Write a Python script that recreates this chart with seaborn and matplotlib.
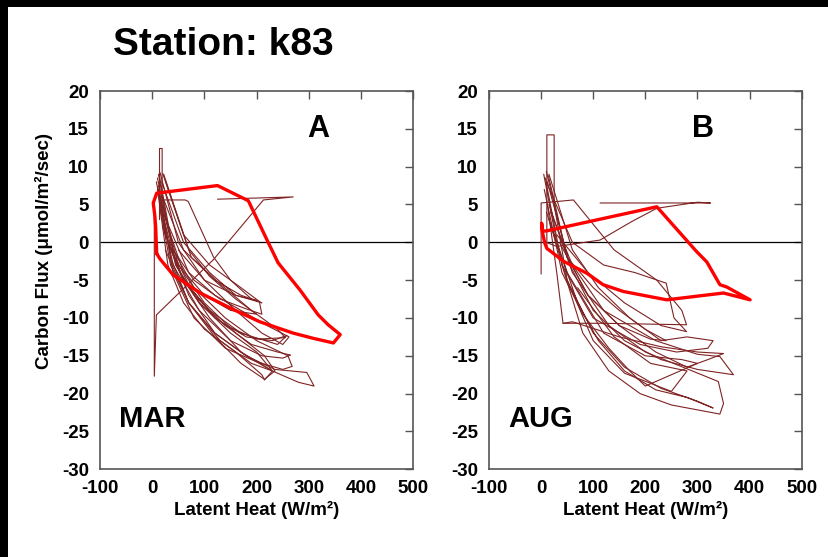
import matplotlib
matplotlib.use("Agg")
import matplotlib.pyplot as plt
from matplotlib.patches import Rectangle
import seaborn as sns
import pandas as pd

# ---------------- data ----------------
STATION = "Station: k83"
PANEL_LETTERS = ["A", "B"]
MONTHS = ["MAR", "AUG"]
X_TICKS = [-100, 0, 100, 200, 300, 400, 500]
Y_TICKS = [-30, -25, -20, -15, -10, -5, 0, 5, 10, 15, 20]

# March: individual daily loops (latent heat W/m2, carbon flux umol/m2/s)
mar_days_le = [
    [12, 30, 60, 100, 160, 215, 235, 215, 170, 120, 70, 35, 14],
    [10, 40, 80, 140, 200, 260, 268, 250, 200, 140, 80, 40, 15],
    [15, 50, 100, 160, 210, 250, 262, 220, 170, 120, 70, 20],
    [18, 60, 110, 160, 210, 200, 170, 120, 60, 20],
    [12, 35, 70, 120, 180, 235, 296, 310, 280, 230, 170, 110, 60, 25, 12],
    [20, 60, 110, 170, 205, 210, 180, 130, 80, 40, 15],
    [8, 30, 60, 110, 170, 240, 258, 230, 180, 120, 60, 20],
    [14, 45, 90, 140, 190, 240, 265, 250, 210, 150, 90, 40, 16],
    [10, 30, 60, 100, 160, 210, 215, 230, 180, 120, 70, 30],
    [22, 70, 110, 160, 200, 150, 100, 50, 20],
    [4, 4, 8, 117, 213, 270, 125],
    [14, 14, 19, 19, 45, 90, 150, 200, 230, 190, 130, 70, 25],
    [15, 63, 69, 117, 150, 190, 200, 160, 100, 50],
    [25, 75, 130, 190, 240, 255, 200, 140, 80, 30],
]
mar_days_cf = [
    [9.0, 2, -4, -8, -12, -15, -17, -18.1, -16, -12.5, -8, -3, 5],
    [8.5, -1, -6, -10, -13, -15, -16.4, -16.8, -15.8, -14, -10, -4, 6],
    [9.2, 0, -5, -9, -12, -13.5, -12.5, -11, -9, -7, -4, 4],
    [8.0, 0, -4, -7, -8, -7.7, -7, -5, -1, 6],
    [7.5, -2, -8, -12, -15, -16.8, -17.2, -19, -18.5, -17, -14.5, -10, -5, 1, 7],
    [9.1, 1, -3, -6, -7.8, -9.5, -8.8, -7.5, -5, -1, 6],
    [8, 0, -5, -9, -12, -13.5, -12.3, -13, -12.5, -10, -5, 2],
    [8.7, -3, -8, -11, -13.5, -14.5, -14.9, -15.3, -15, -13, -9, -3, 5],
    [7, -3, -8, -11.5, -14.5, -17.5, -18.2, -17, -15, -12, -7, 0],
    [9, -1, -4.5, -7.5, -9.5, -9, -7, -3, 5],
    [5, -17.7, -9.6, -2.3, 5.6, 6.0, 5.7],
    [3, 12.4, 12.4, 4, -3, -8, -12, -14.5, -17, -16, -13, -8, -1],
    [5.6, 5.6, 5.4, -1.9, -5, -7.5, -7.7, -7, -5, -1],
    [8.2, -2, -5.5, -9, -11.5, -12.6, -12.8, -11, -7, 0],
]
# March: mean diurnal loop
mar_mean_le = [8.6, 15, 40, 92, 156, 206, 270, 309, 347, 360, 337, 318, 283, 241, 222, 184, 125, 8.6, 2, 5, 6.6, 8.6]
mar_mean_cf = [-1.5, -2.2, -4.3, -6.7, -8.9, -10.5, -12.0, -12.7, -13.3, -12.2, -10.9, -9.6, -6.3, -2.7, 0, 5.5, 7.5, 6.5, 5.2, 3.5, 2.0, -1.5]

# August: individual daily loops
aug_days_le = [
    [5, 30, 70, 110, 160, 220, 280, 330, 300, 230, 160, 100, 50, 15],
    [8, 40, 80, 130, 190, 250, 343, 350, 340, 290, 200, 130, 60, 15],
    [10, 50, 90, 150, 220, 280, 320, 350, 300, 230, 150, 60, 42, 30, 12],
    [12, 55, 100, 160, 230, 300, 369, 343, 300, 220, 120, 60, 18],
    [15, 60, 110, 170, 230, 280, 330, 320, 260, 190, 100, 40],
    [6, 40, 80, 130, 170, 200, 250, 300, 270, 200, 120, 50, 10],
    [10, 60, 120, 180, 240, 255, 279, 230, 160, 90, 30],
    [11, 11, 25, 25, 50, 100, 160, 250, 280, 210, 140, 70],
    [0, 0, 62, 140, 222, 270, 279, 200, 120, 42],
    [113, 325, 300, 222, 174, 113, 30, 10],
    [14, 50, 100, 150, 200, 240, 210, 150, 90, 35],
]
aug_days_cf = [
    [9, 0, -8, -13, -17, -19.5, -20.5, -21.9, -21, -19.3, -16.5, -12, -5, 3],
    [8.5, -3, -12, -17, -20, -21.5, -22.7, -21.3, -18.4, -17, -14.5, -11, -4, 5],
    [9.4, -2, -7, -11, -14.5, -16.5, -15.5, -14.7, -14.5, -13.8, -12.5, -10.5, -10.7, -4, 5],
    [8, -3, -9, -13, -15.5, -16.8, -17.5, -15.1, -14.8, -13, -9, -3, 4],
    [9, -1, -6, -10, -13, -12.5, -13, -14, -14.5, -13.5, -10, -3],
    [7, -4, -9.5, -14, -17, -19, -17.5, -16, -15.5, -15, -12, -4, 4],
    [8, 0, -3, -4, -5.4, -10, -11.8, -11, -8, -4, 1],
    [-1, 14.2, 14.2, 5, -5, -13, -17.3, -19.7, -17, -16, -12.5, -6],
    [-4.2, 5.2, 5.6, -1, -5, -9, -10.9, -10.8, -10.7, -10.7],
    [5.2, 5.2, 5.3, 4.5, 2.75, 0.3, -0.55, 0],
    [8.8, -2, -6, -9, -11.5, -13, -12.8, -11, -7, 0],
]
# August: mean diurnal loop
aug_mean_le = [1, 3, 10, 222, 298, 318, 343, 356, 401, 350, 241, 158, 119, 88, 43, 11, 7, 2, 1]
aug_mean_cf = [2.5, 1.5, 1.5, 4.7, -1.2, -2.6, -5.6, -5.9, -7.6, -6.7, -7.6, -6.5, -5.6, -4.1, -2.5, -0.8, -0.1, 1.5, 2.5]

# ---------------- styling ----------------
sns.set_theme(style="white")
plt.rcParams["font.family"] = ["Liberation Sans", "DejaVu Sans"]
plt.rcParams["font.weight"] = "bold"
plt.rcParams["axes.labelweight"] = "bold"
plt.rcParams["text.color"] = "black"
plt.rcParams["axes.labelcolor"] = "black"
plt.rcParams["xtick.color"] = "black"
plt.rcParams["ytick.color"] = "black"

THIN = "#7f2323"
THICK = "#ff0000"
SPINE = "#555555"

W, H = 829, 557
fig = plt.figure(figsize=(W / 100, H / 100), dpi=100)
fig.patch.set_facecolor("white")

# black frame strips at the top and left edges
fig.add_artist(Rectangle((0, 1 - 7 / H), 1, 7 / H, transform=fig.transFigure,
                         facecolor="black", edgecolor="none", zorder=0))
fig.add_artist(Rectangle((0, 0), 8 / W, 1, transform=fig.transFigure,
                         facecolor="black", edgecolor="none", zorder=0))

ax_l = fig.add_axes([100 / W, 1 - 469.3 / H, 313.3 / W, 378.3 / H])
ax_r = fig.add_axes([489 / W, 1 - 469.3 / H, 312.7 / W, 378.3 / H])


def to_frame(les, cfs):
    rows = []
    for d, (xs, ys) in enumerate(zip(les, cfs)):
        for k, (x, y) in enumerate(zip(xs, ys)):
            rows.append({"day": d, "step": k, "LE": x, "CF": y})
    return pd.DataFrame(rows)


panels = [
    (ax_l, mar_days_le, mar_days_cf, mar_mean_le, mar_mean_cf),
    (ax_r, aug_days_le, aug_days_cf, aug_mean_le, aug_mean_cf),
]

for ax, dle, dcf, mle, mcf in panels:
    ax.set_facecolor("white")
    ax.axhline(0, color="black", lw=0.9, zorder=1)
    df = to_frame(dle, dcf)
    sns.lineplot(data=df, x="LE", y="CF", units="day", estimator=None, sort=False,
                 color=THIN, lw=0.8, ax=ax, zorder=2, legend=False)
    mdf = pd.DataFrame({"LE": mle, "CF": mcf})
    sns.lineplot(data=mdf, x="LE", y="CF", sort=False, estimator=None,
                 color=THICK, lw=2.4, ax=ax, zorder=3, legend=False)
    ax.set_xlim(-100, 500)
    ax.set_ylim(-30, 20)
    ax.set_xticks(X_TICKS)
    ax.set_yticks(Y_TICKS)
    ax.set_xticklabels([str(v) for v in X_TICKS])
    ax.set_yticklabels([str(v) for v in Y_TICKS])
    ax.tick_params(axis="both", direction="in", top=True, right=True,
                   length=6, width=1.0, color=SPINE, labelsize=13.5, labelcolor="black")
    ax.tick_params(axis="x", pad=8)
    ax.tick_params(axis="y", pad=8)
    for s in ax.spines.values():
        s.set_visible(True)
        s.set_color(SPINE)
        s.set_linewidth(1.2)
    ax.grid(False)
    ax.set_xlabel("Latent Heat (W/m²)", fontsize=13.5, fontweight="bold", color="black")
    ax.xaxis.set_label_coords(0.5, -0.083)
    ax.set_ylabel("")

ax_l.set_ylabel("Carbon Flux (μmol/m²/sec)", fontsize=13.5, fontweight="bold", color="black")
ax_l.yaxis.set_label_coords(-0.15, 0.577)

# texts
fig.text(113 / W, 1 - 45 / H, STATION, fontsize=28, fontweight="bold", ha="left", va="center", color="black")
fig.text(318 / W, 1 - 129 / H, PANEL_LETTERS[0], fontsize=22, fontweight="bold", ha="center", va="center", color="black")
fig.text(703 / W, 1 - 129 / H, PANEL_LETTERS[1], fontsize=22, fontweight="bold", ha="center", va="center", color="black")
fig.text(119 / W, 1 - 419 / H, MONTHS[0], fontsize=21, fontweight="bold", ha="left", va="center", color="black")
fig.text(508 / W, 1 - 419 / H, MONTHS[1], fontsize=21, fontweight="bold", ha="left", va="center", color="black")

fig.savefig("out.png", dpi=100, facecolor="white")
